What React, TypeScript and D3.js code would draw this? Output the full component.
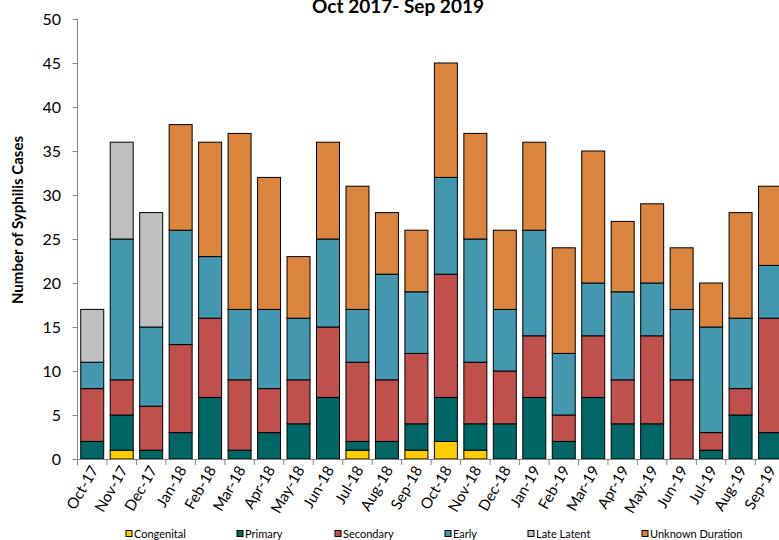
import React from "react";
import * as d3 from "d3";

const months = [
  "Oct-17", "Nov-17", "Dec-17", "Jan-18", "Feb-18", "Mar-18", "Apr-18", "May-18",
  "Jun-18", "Jul-18", "Aug-18", "Sep-18", "Oct-18", "Nov-18", "Dec-18", "Jan-19",
  "Feb-19", "Mar-19", "Apr-19", "May-19", "Jun-19", "Jul-19", "Aug-19", "Sep-19",
];

const congenital = [0, 1, 0, 0, 0, 0, 0, 0, 0, 1, 0, 1, 2, 1, 0, 0, 0, 0, 0, 0, 0, 0, 0, 0];
const primary = [2, 4, 1, 3, 7, 1, 3, 4, 7, 1, 2, 3, 5, 3, 4, 7, 2, 7, 4, 4, 0, 1, 5, 3];
const secondary = [6, 4, 5, 10, 9, 8, 5, 5, 8, 9, 7, 8, 14, 7, 6, 7, 3, 7, 5, 10, 9, 2, 3, 13];
const early = [3, 16, 9, 13, 7, 8, 9, 7, 10, 6, 12, 7, 11, 14, 7, 12, 7, 6, 10, 6, 8, 12, 8, 6];
const lateLatent = [6, 11, 13, 0, 0, 0, 0, 0, 0, 0, 0, 0, 0, 0, 0, 0, 0, 0, 0, 0, 0, 0, 0, 0];
const unknownDuration = [0, 0, 0, 12, 13, 20, 15, 7, 11, 14, 7, 7, 13, 12, 9, 10, 12, 15, 8, 9, 7, 5, 12, 9];

const seriesNames = ["Congenital", "Primary", "Secondary", "Early", "Late Latent", "Unknown Duration"];
const seriesValues = [congenital, primary, secondary, early, lateLatent, unknownDuration];
const colors = ["#FFCC00", "#016764", "#C0504D", "#4398B0", "#C0C0C0", "#DB843D"];
const yTicks = [0, 5, 10, 15, 20, 25, 30, 35, 40, 45, 50];

// legend square positions, as laid out in the original
const legendX = [126, 237, 335, 445, 528, 642];

const W = 779;
const H = 540;
const FONT = "Lato, 'Open Sans', sans-serif";

const App: React.FC = () => {
  const left = 77.5;
  const step = 29.47;
  const x = d3
    .scaleBand<string>()
    .domain(months)
    .range([left, left + step * months.length])
    .paddingInner(0.22)
    .paddingOuter(0.11);

  const y = d3.scaleLinear().domain([0, 50]).range([459, 19]);

  const rows = months.map((m, i) => {
    const row: Record<string, any> = { month: m };
    seriesNames.forEach((s, j) => (row[s] = seriesValues[j][i]));
    return row;
  });
  const stacked = d3.stack<any>().keys(seriesNames)(rows);

  const boundaries = d3.range(months.length + 1).map((i) => left + i * step);

  return (
    <svg width={W} height={H} style={{ position: "absolute", left: 0, top: 0, display: "block" }}>
      <rect width={W} height={H} fill="#fff" />
      {/* title */}
      <text x={398} y={13} textAnchor="middle" fontFamily={FONT} fontWeight="bold" fontSize={19}>
        Oct 2017- Sep 2019
      </text>

      {/* y axis */}
      <line x1={left} x2={left} y1={y(50)} y2={y(0)} stroke="#868686" />
      {yTicks.map((t) => (
        <g key={t}>
          <line x1={left - 5} x2={left} y1={Math.round(y(t)) + 0.5} y2={Math.round(y(t)) + 0.5} stroke="#868686" />
          <text x={61} y={y(t)} dy="0.36em" textAnchor="end" fontFamily={FONT} fontSize={16} fill="#000">
            {t}
          </text>
        </g>
      ))}
      <text
        transform={`translate(23,220) rotate(-90)`}
        textAnchor="middle"
        fontFamily={FONT}
        fontWeight="bold"
        fontSize={15}
      >
        Number of Syphilis Cases
      </text>

      {/* bars */}
      {stacked.map((layer, j) =>
        layer.map((d, i) =>
          d[1] - d[0] > 0 ? (
            <rect
              key={`${j}-${i}`}
              x={x(months[i])!}
              y={y(d[1])}
              width={x.bandwidth()}
              height={y(d[0]) - y(d[1])}
              fill={colors[j]}
              stroke="#000"
              strokeWidth={1}
            />
          ) : null
        )
      )}

      {/* x axis */}
      <line x1={left} x2={W + 10} y1={459.5} y2={459.5} stroke="#868686" />
      {boundaries.map((b, i) => (
        <line key={i} x1={b} x2={b} y1={459.5} y2={465} stroke="#868686" />
      ))}
      {months.map((m) => (
        <text
          key={m}
          transform={`translate(${x(m)! + x.bandwidth() / 2 + 2},${467}) rotate(-60)`}
          textAnchor="end"
          dy="0.35em"
          fontFamily={FONT}
          fontSize={15}
        >
          {m}
        </text>
      ))}

      {/* legend */}
      {seriesNames.map((s, j) => (
        <g key={s}>
          <rect x={legendX[j]} y={530.5} width={6} height={6} fill={colors[j]} stroke="#000" />
          <text x={legendX[j] + 8} y={538} fontFamily={FONT} fontSize={11}>
            {s}
          </text>
        </g>
      ))}
    </svg>
  );
};

export default App;
